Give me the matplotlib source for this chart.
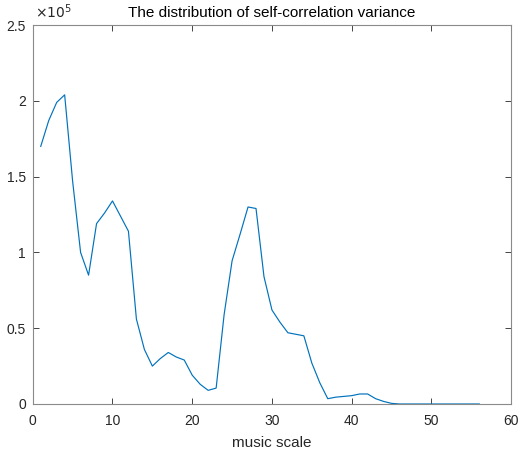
import matplotlib.pyplot as plt
from matplotlib.ticker import FormatStrFormatter

plt.rcParams['font.family'] = ['Liberation Sans', 'DejaVu Sans']

# music scale index and variance (in units of 1e5)
scale = list(range(1, 57))
variance = [1.70, 1.87, 1.99, 2.04, 1.47, 1.00, 0.85, 1.19, 1.26, 1.34,
            1.24, 1.14, 0.56, 0.36, 0.25, 0.30, 0.34, 0.31, 0.29, 0.19,
            0.13, 0.09, 0.105, 0.59, 0.945, 1.12, 1.30, 1.29, 0.84, 0.62,
            0.54, 0.47, 0.46, 0.45, 0.27, 0.14, 0.035, 0.045, 0.05, 0.055,
            0.066, 0.066, 0.035, 0.017, 0.004, 0.0, 0.0, 0.0, 0.0, 0.0,
            0.0, 0.0, 0.0, 0.0, 0.0, 0.0]

fig = plt.figure(figsize=(5.2, 4.57), dpi=100)
ax = fig.add_axes([0.063, 0.116, 0.92, 0.829])

ax.plot(scale, variance, color='#0072BD', linewidth=0.85)

ax.set_xlim(0, 60)
ax.set_ylim(0, 2.5)
ax.set_xticks([0, 10, 20, 30, 40, 50, 60])
ax.set_yticks([0, 0.5, 1, 1.5, 2, 2.5])
ax.yaxis.set_major_formatter(FormatStrFormatter('%g'))

ax.tick_params(direction='in', top=True, right=True, length=4, width=0.6,
               colors='#262626', labelsize=10)
ax.tick_params(axis='x', pad=7)
ax.tick_params(axis='y', pad=5)
for s in ax.spines.values():
    s.set_color('#8a8a8a')
    s.set_linewidth(0.8)

ax.set_title('The distribution of self-correlation variance', fontsize=11,
             color='black', pad=6)
ax.set_xlabel('music scale', fontsize=11, color='#262626', labelpad=6)
ax.text(0.005, 1.01, r'$\times10^{5}$', transform=ax.transAxes, fontsize=10,
        color='#262626', ha='left', va='bottom')

fig.savefig('out.png', dpi=100)
